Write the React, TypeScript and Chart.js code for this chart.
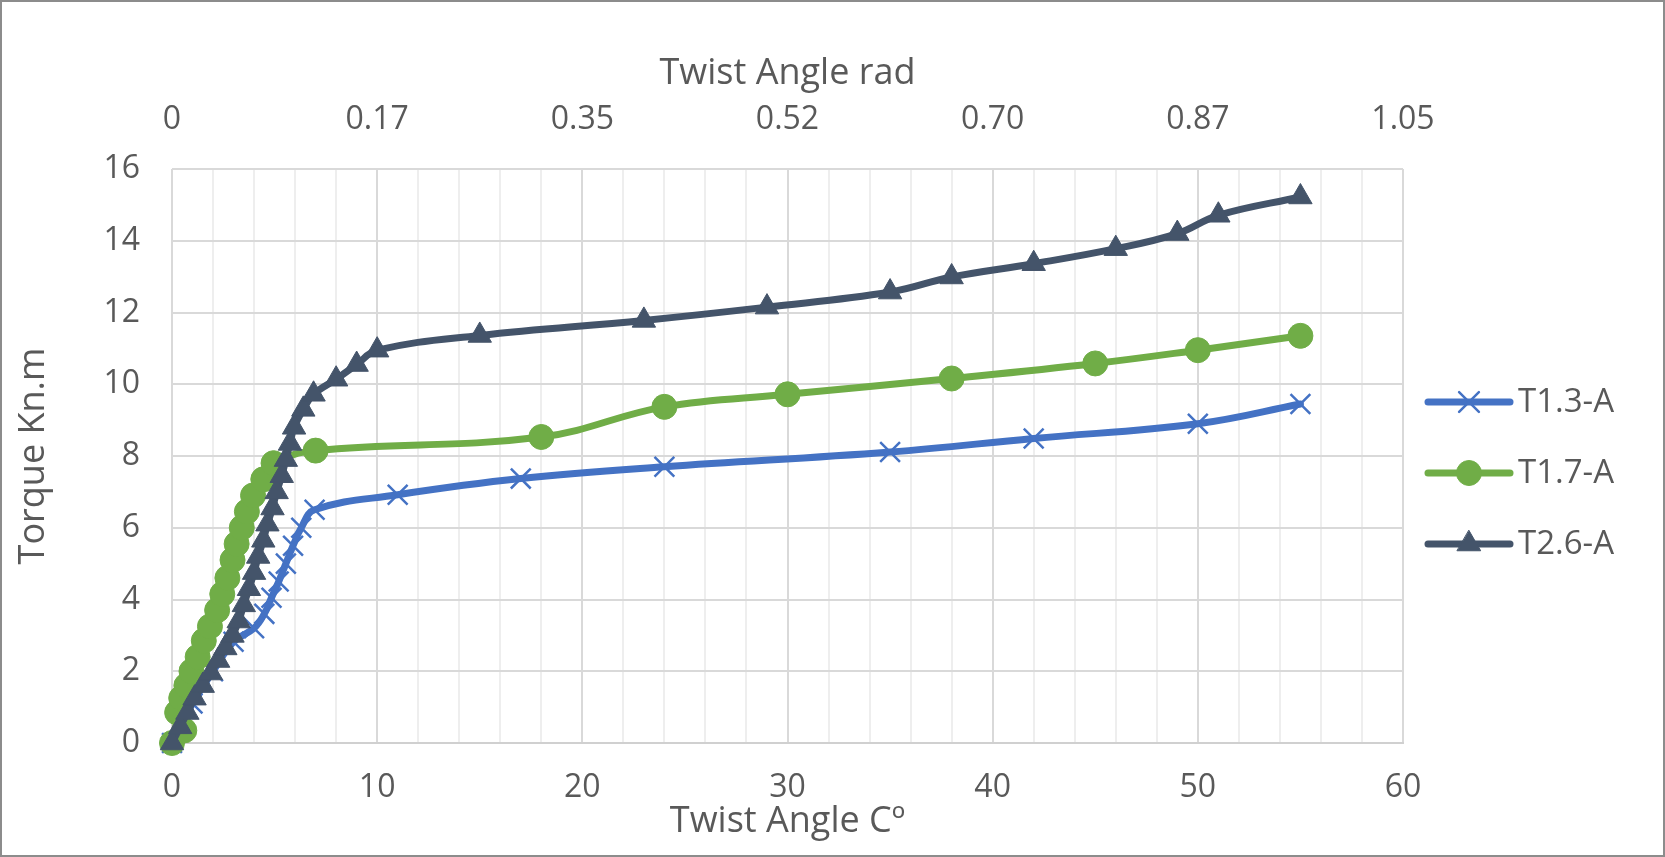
import React, { useEffect, useRef } from 'react';
import { Chart, registerables } from 'chart.js';
import { drawPoint } from 'chart.js/helpers';

Chart.register(...registerables);

// ---- Data ----
const seriesNames = ['T1.3-A', 'T1.7-A', 'T2.6-A'];

const t13X = [0, 1, 2, 3.0, 4.0, 4.5, 4.85, 5.2, 5.55, 5.9, 6.3, 6.95, 11, 17, 24, 35, 42, 50, 55];
const t13Y = [0, 1.1, 2.0, 2.82, 3.2, 3.6, 4.05, 4.5, 5.0, 5.5, 6.0, 6.5, 6.92, 7.37, 7.7, 8.11, 8.49, 8.9, 9.45];

const t17X = [0, 0.6, 0.25, 0.45, 0.7, 0.95, 1.25, 1.55, 1.85, 2.2, 2.45, 2.7, 2.95, 3.15, 3.4, 3.65, 3.95, 4.45, 4.95, 7, 18, 24, 30, 38, 45, 50, 55];
const t17Y = [0, 0.35, 0.85, 1.25, 1.6, 2.0, 2.4, 2.85, 3.25, 3.7, 4.15, 4.6, 5.1, 5.55, 6.0, 6.45, 6.9, 7.35, 7.8, 8.15, 8.53, 9.37, 9.72, 10.16, 10.58, 10.95, 11.35];

const t26X = [0, 0.4, 0.75, 1.1, 1.5, 1.9, 2.25, 2.6, 2.95, 3.25, 3.5, 3.75, 4.0, 4.2, 4.45, 4.65, 4.9, 5.1, 5.35, 5.55, 5.75, 5.95, 6.4, 6.9, 8, 9, 10, 15, 23, 29, 35, 38, 42, 46, 49, 51, 55];
const t26Y = [0, 0.45, 0.85, 1.25, 1.6, 1.95, 2.3, 2.65, 3.0, 3.4, 3.85, 4.3, 4.75, 5.2, 5.65, 6.1, 6.55, 7.0, 7.45, 7.9, 8.35, 8.8, 9.3, 9.72, 10.14, 10.55, 10.95, 11.36, 11.78, 12.15, 12.57, 12.99, 13.36, 13.78, 14.2, 14.71, 15.22];

const xMin = 0;
const xMax = 60;
const yMin = 0;
const yMax = 16;
const xMajorStep = 10;
const xMinorStep = 2;
const yStep = 2;

const xTitle = 'Twist Angle Cº';
const x2Title = 'Twist Angle rad';
const yTitle = 'Torque Kn.m';

const COLORS = ['#4472C4', '#70AD47', '#44546A'];
const TEXT = '#595959';
const FONT = '"Open Sans", "Noto Sans", sans-serif';

const W = 1665;
const H = 857;
const LINE_W = 7;

const toPts = (xs: number[], ys: number[]) => xs.map((x, i) => ({ x, y: ys[i] }));

const markerDefs = [
  { pointStyle: 'crossRot', radius: 14, borderWidth: 2.5 },
  { pointStyle: 'circle', radius: 12.5, borderWidth: 1 },
  { pointStyle: 'triangle', radius: 13.5, borderWidth: 1 },
];

const legendPlugin = {
  id: 'customLegend',
  afterDraw(chart: any) {
    const ctx = chart.ctx;
    const rows = [402, 473, 544];
    const lineX1 = 1428;
    const lineX2 = 1510;
    const markX = 1469;
    const textX = 1518;
    seriesNames.forEach((name, i) => {
      const y = rows[i];
      ctx.save();
      ctx.strokeStyle = COLORS[i];
      ctx.lineWidth = LINE_W;
      ctx.lineCap = 'round';
      ctx.beginPath();
      ctx.moveTo(lineX1, y);
      ctx.lineTo(lineX2, y);
      ctx.stroke();
      ctx.fillStyle = COLORS[i];
      ctx.strokeStyle = COLORS[i];
      ctx.lineWidth = markerDefs[i].borderWidth;
      drawPoint(ctx, { pointStyle: markerDefs[i].pointStyle as any, radius: markerDefs[i].radius, rotation: 0, borderWidth: markerDefs[i].borderWidth }, markX, y);
      ctx.fillStyle = TEXT;
      ctx.font = `33px ${FONT}`;
      ctx.textBaseline = 'middle';
      ctx.textAlign = 'left';
      ctx.fillText(name, textX, y + 1);
      ctx.restore();
    });
  },
};

const borderPlugin = {
  id: 'outerBorder',
  afterDraw(chart: any) {
    const ctx = chart.ctx;
    ctx.save();
    ctx.strokeStyle = '#8C8C8C';
    ctx.lineWidth = 2;
    ctx.strokeRect(1, 1, chart.width - 2, chart.height - 2);
    ctx.restore();
  },
};

export default function App() {
  const canvasRef = useRef<HTMLCanvasElement | null>(null);

  useEffect(() => {
    document.body.style.margin = '0';
    document.body.style.background = '#ffffff';
    const canvas = canvasRef.current;
    if (!canvas) return;

    Chart.defaults.font.family = FONT;
    Chart.defaults.color = TEXT;

    const seriesData = [toPts(t13X, t13Y), toPts(t17X, t17Y), toPts(t26X, t26Y)];

    const datasets = seriesNames.map((name, i) => ({
      label: name,
      data: seriesData[i],
      borderColor: COLORS[i],
      backgroundColor: COLORS[i],
      borderWidth: LINE_W,
      borderCapStyle: 'round' as const,
      borderJoinStyle: 'round' as const,
      tension: 0.4,
      pointStyle: markerDefs[i].pointStyle as any,
      pointRadius: markerDefs[i].radius,
      pointBorderWidth: markerDefs[i].borderWidth,
      pointBackgroundColor: COLORS[i],
      pointBorderColor: COLORS[i],
      fill: false,
      clip: false as any,
      order: 3 - i,
      xAxisID: 'x',
      yAxisID: 'y',
    }));

    const chart = new Chart(canvas, {
      type: 'line',
      data: { datasets },
      plugins: [legendPlugin, borderPlugin],
      options: {
        responsive: false,
        animation: false,
        layout: { padding: { left: 0, top: 0, bottom: 0, right: 262 } },
        plugins: {
          legend: { display: false },
          tooltip: { enabled: false },
        },
        scales: {
          x: {
            type: 'linear',
            position: 'bottom',
            min: xMin,
            max: xMax,
            afterFit: (s: any) => { s.height = 114; },
            ticks: {
              stepSize: xMinorStep,
              autoSkip: false,
              maxRotation: 0,
              padding: 26,
              font: { size: 32 },
              color: TEXT,
              callback: (v: any) => (Number(v) % xMajorStep === 0 ? String(v) : ''),
            },
            grid: {
              drawTicks: false,
              lineWidth: 2,
              color: (c: any) => (c.tick && c.tick.value % xMajorStep === 0 ? '#D9D9D9' : '#EEEEEE'),
            },
            border: { display: true, color: '#D0D0D0', width: 2 },
            title: {
              display: true,
              text: xTitle,
              font: { size: 36 },
              color: TEXT,
              padding: { top: 0, bottom: 14 },
            },
          },
          x2: {
            type: 'linear',
            position: 'top',
            min: xMin,
            max: xMax,
            afterFit: (s: any) => { s.height = 169; },
            ticks: {
              stepSize: xMajorStep,
              autoSkip: false,
              maxRotation: 0,
              padding: 30,
              font: { size: 32 },
              color: TEXT,
              callback: (v: any) => (Number(v) === 0 ? '0' : ((Number(v) * Math.PI) / 180).toFixed(2)),
            },
            grid: { display: false, drawTicks: false },
            border: { display: false },
            title: {
              display: true,
              text: x2Title,
              font: { size: 36 },
              color: TEXT,
              padding: { top: 52, bottom: 0 },
            },
          },
          y: {
            type: 'linear',
            position: 'left',
            min: yMin,
            max: yMax,
            afterFit: (s: any) => { s.width = 172; },
            ticks: {
              stepSize: yStep,
              padding: 32,
              font: { size: 32 },
              color: TEXT,
            },
            grid: { drawTicks: false, lineWidth: 2, color: '#D9D9D9' },
            border: { display: false },
            title: {
              display: true,
              text: yTitle,
              font: { size: 36 },
              color: TEXT,
              padding: { top: 12, bottom: 0 },
            },
          },
        },
      } as any,
    });

    return () => {
      chart.destroy();
    };
  }, []);

  return (
    <div style={{ width: W, height: H, background: '#ffffff' }}>
      <canvas ref={canvasRef} width={W} height={H} />
    </div>
  );
}
